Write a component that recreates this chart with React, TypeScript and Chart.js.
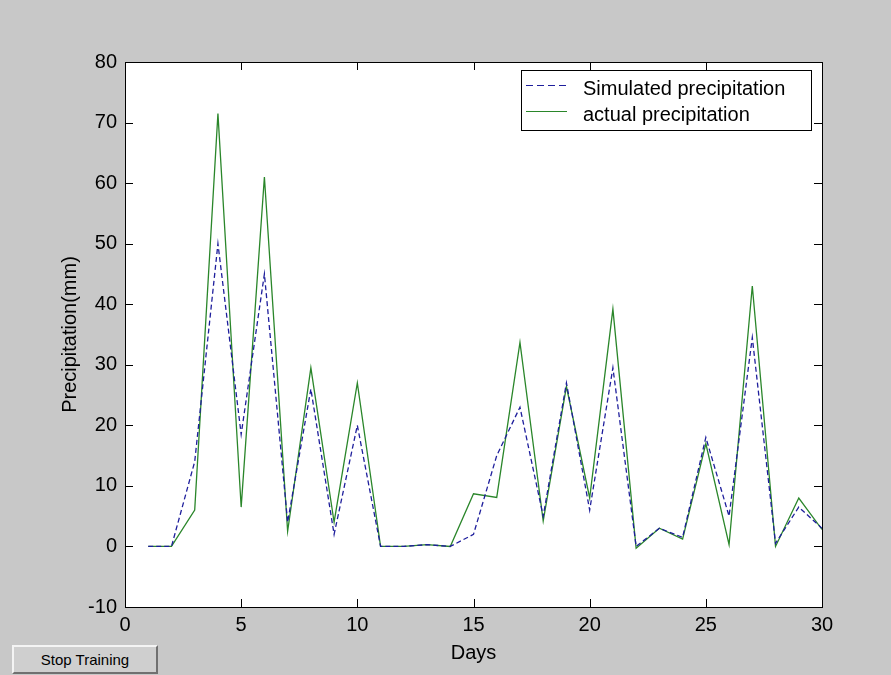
import React, { useEffect, useRef } from "react";
import { Chart, registerables } from "chart.js";

Chart.register(...registerables);

const days = [1, 2, 3, 4, 5, 6, 7, 8, 9, 10, 11, 12, 13, 14, 15, 16, 17, 18, 19, 20, 21, 22, 23, 24, 25, 26, 27, 28, 29, 30];
const simulated = [0, 0, 14, 50, 18.5, 45, 4, 26, 2, 20, 0, 0, 0.3, 0, 2, 15, 23, 5, 27, 6, 29.5, 0, 3, 1.5, 18, 5, 34.5, 0.5, 6.5, 3];
const actual = [0, 0, 6, 71.5, 6.5, 61, 2.5, 29.5, 4, 27, 0, 0, 0.3, 0, 8.7, 8.1, 33.7, 4.2, 26.4, 8, 39.2, -0.3, 3, 1.2, 17, 0.3, 43, 0, 8, 2.8];
const seriesNames = ["Simulated precipitation", "actual precipitation"];
const xTitle = "Days";
const yTitle = "Precipitation(mm)";
const buttonLabel = "Stop Training";

const FONT = '"Liberation Sans", Arial, Helvetica, sans-serif';

const framePlugin = {
  id: "matlabFrame",
  afterDatasetsDraw(chart: any) {
    const { ctx, chartArea: a, scales } = chart;
    const xs = scales.x;
    const ys = scales.y;
    ctx.save();
    ctx.strokeStyle = "#000";
    ctx.lineWidth = 1;
    ctx.strokeRect(Math.round(a.left) + 0.5, Math.round(a.top) + 0.5, Math.round(a.right - a.left), Math.round(a.bottom - a.top));
    const tl = 8;
    ctx.beginPath();
    xs.ticks.forEach((t: any) => {
      const px = Math.round(xs.getPixelForValue(t.value)) + 0.5;
      ctx.moveTo(px, a.bottom);
      ctx.lineTo(px, a.bottom - tl);
      ctx.moveTo(px, a.top);
      ctx.lineTo(px, a.top + tl);
    });
    ys.ticks.forEach((t: any) => {
      const py = Math.round(ys.getPixelForValue(t.value)) + 0.5;
      ctx.moveTo(a.left, py);
      ctx.lineTo(a.left + tl, py);
      ctx.moveTo(a.right, py);
      ctx.lineTo(a.right - tl, py);
    });
    ctx.stroke();

    // axis titles
    ctx.fillStyle = "#000";
    ctx.font = `20px ${FONT}`;
    ctx.textAlign = "center";
    ctx.textBaseline = "middle";
    ctx.fillText(xTitle, (a.left + a.right) / 2, 653);
    ctx.save();
    ctx.translate(70, (a.top + a.bottom) / 2);
    ctx.rotate(-Math.PI / 2);
    ctx.fillText(yTitle, 0, 0);
    ctx.restore();

    // legend
    const lx = 521, ly = 70, lw = 290, lh = 60;
    ctx.fillStyle = "#fff";
    ctx.fillRect(lx, ly, lw, lh);
    ctx.strokeStyle = "#000";
    ctx.strokeRect(lx + 0.5, ly + 0.5, lw, lh);
    const lineRows = [85, 111];
    const textRows = [95, 121];
    chart.data.datasets.forEach((ds: any, i: number) => {
      const y = lineRows[i];
      ctx.save();
      ctx.strokeStyle = ds.borderColor;
      ctx.lineWidth = 1.2;
      ctx.setLineDash(ds.borderDash ? [7, 4] : []);
      ctx.beginPath();
      ctx.moveTo(526, y + 0.5);
      ctx.lineTo(567, y + 0.5);
      ctx.stroke();
      ctx.restore();
      ctx.fillStyle = "#000";
      ctx.textAlign = "left";
      ctx.textBaseline = "alphabetic";
      ctx.font = `20px ${FONT}`;
      ctx.fillText(ds.label, 583, textRows[i]);
    });
    ctx.restore();
  },
};

export default function App() {
  const ref = useRef<HTMLCanvasElement | null>(null);

  useEffect(() => {
    document.body.style.margin = "0";
    const canvas = ref.current;
    if (!canvas) return;
    const chart = new Chart(canvas, {
      type: "line",
      data: {
        datasets: [
          {
            label: seriesNames[0],
            data: days.map((d, i) => ({ x: d, y: simulated[i] })),
            borderColor: "#1e1e9c",
            borderWidth: 1.3,
            borderDash: [5, 3],
            pointRadius: 0,
            fill: false,
            tension: 0,
          },
          {
            label: seriesNames[1],
            data: days.map((d, i) => ({ x: d, y: actual[i] })),
            borderColor: "#2a862a",
            borderWidth: 1.3,
            pointRadius: 0,
            fill: false,
            tension: 0,
          },
        ],
      },
      options: {
        responsive: false,
        animation: false,
        events: [],
        layout: { padding: { left: 0, top: 62, right: 69, bottom: 0 } },
        plugins: {
          legend: { display: false },
          tooltip: { enabled: false },
          title: { display: false },
        },
        scales: {
          x: {
            type: "linear",
            min: 0,
            max: 30,
            grid: { display: false, drawTicks: false },
            border: { display: false },
            ticks: {
              stepSize: 5,
              padding: 6,
              color: "#000",
              font: { family: FONT, size: 20 },
              maxRotation: 0,
            },
            afterFit(scale: any) {
              scale.height = 68;
            },
          },
          y: {
            type: "linear",
            min: -10,
            max: 80,
            grid: { display: false, drawTicks: false },
            border: { display: false },
            ticks: {
              stepSize: 10,
              padding: 8,
              color: "#000",
              font: { family: FONT, size: 20 },
            },
            afterFit(scale: any) {
              scale.width = 125;
            },
          },
        },
      },
      plugins: [
        {
          id: "whiteArea",
          beforeDatasetsDraw(c: any) {
            const a = c.chartArea;
            c.ctx.save();
            c.ctx.fillStyle = "#fff";
            c.ctx.fillRect(a.left, a.top, a.right - a.left, a.bottom - a.top);
            c.ctx.restore();
          },
        },
        framePlugin,
      ],
    } as any);
    return () => chart.destroy();
  }, []);

  return (
    <div
      style={{
        position: "fixed",
        left: 0,
        top: 0,
        width: 891,
        height: 675,
        background: "#c8c8c8",
        overflow: "hidden",
      }}
    >
      <canvas ref={ref} width={891} height={675} style={{ display: "block" }} />
      <button
        style={{
          position: "absolute",
          left: 12,
          top: 645,
          width: 146,
          height: 29,
          background: "#cfcfcf",
          borderStyle: "solid",
          borderWidth: 2,
          borderColor: "#f4f4f4 #707070 #707070 #f4f4f4",
          fontFamily: FONT,
          fontSize: 15,
          color: "#000",
          padding: 0,
        }}
      >
        {buttonLabel}
      </button>
    </div>
  );
}
